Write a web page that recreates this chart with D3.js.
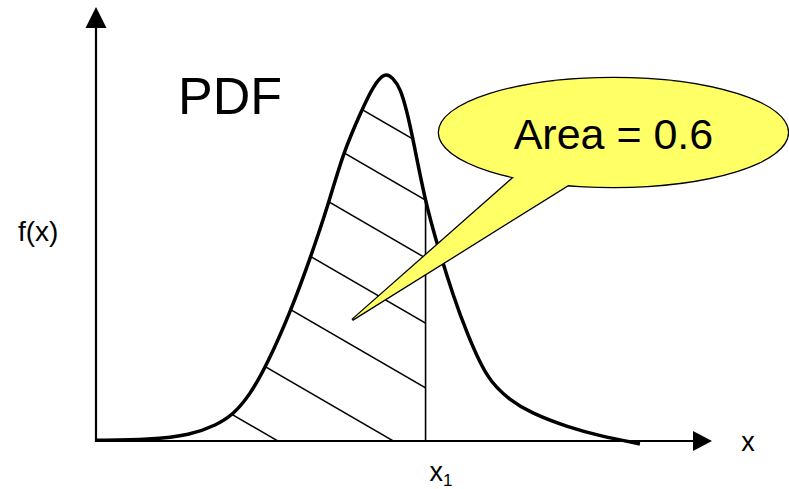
<!DOCTYPE html>
<html>
<head>
<meta charset="utf-8">
<script src="https://cdn.jsdelivr.net/npm/d3@7"></script>
<style>
  html, body { margin: 0; padding: 0; background: #fff; }
  svg { display: block; }
  text { font-family: "Liberation Sans", Arial, sans-serif; fill: #000; }
</style>
</head>
<body>
<svg id="chart" width="789" height="489"></svg>
<script>
// Density curve, sampled along x (arbitrary units)
const curveX = [0.00, 0.88, 1.53, 1.96, 2.22, 2.50, 2.78, 3.17, 3.49, 3.77, 4.01, 4.32, 4.50, 4.69,
                4.82, 4.94, 5.05, 5.15, 5.34, 5.54, 5.80, 6.02, 6.35, 6.72, 7.05, 7.69, 8.18, 8.83];
const curveF = [0.002, 0.004, 0.016, 0.044, 0.071, 0.126, 0.210, 0.358, 0.505, 0.645, 0.787, 0.906, 0.970, 1.008,
                0.992, 0.964, 0.899, 0.822, 0.658, 0.536, 0.396, 0.295, 0.167, 0.112, 0.077, 0.036, 0.014, -0.008];

// Cut-off point and the probability it encloses
const x1Value = 5.35;
const areaValue = 0.6;

// Axis extents
const xAxisMax = 10;
const fAxisMax = 1.186;

// Hatch lines, given by the density level where each one meets x = x1
const hatchLevels = [0.805, 0.658, 0.500, 0.322, 0.145, -0.051, -0.234];

// Callout (data coordinates): balloon centre and pointer tip
const calloutCenter = [8.40, 0.843];
const calloutTip = [4.16, 0.331];

const svg = d3.select("#chart");

const x = d3.scaleLinear().domain([0, xAxisMax]).range([96, 712]);
const y = d3.scaleLinear().domain([0, 1]).range([441, 75]);

const pts = curveX.map((v, i) => [v, curveF[i]]);
const curveType = d3.curveBasis;

const defs = svg.append("defs");

// Region under the curve
const areaGen = d3.area()
  .x(d => x(d[0]))
  .y0(y(0))
  .y1(d => y(d[1]))
  .curve(curveType);

defs.append("clipPath").attr("id", "under-curve")
  .append("path").attr("d", areaGen(pts));

defs.append("clipPath").attr("id", "left-of-x1")
  .append("rect")
  .attr("x", 0).attr("y", 0)
  .attr("width", x(x1Value)).attr("height", y(0));

// Hatching left of x1
const hatchSlope = 0.58;
const hatchOuter = svg.append("g").attr("clip-path", "url(#left-of-x1)");
const hatchInner = hatchOuter.append("g").attr("clip-path", "url(#under-curve)");
hatchInner.selectAll("line.hatch")
  .data(hatchLevels)
  .join("line")
  .attr("class", "hatch")
  .attr("x1", x(x1Value) + 40)
  .attr("y1", d => y(d) + hatchSlope * 40)
  .attr("x2", x(0))
  .attr("y2", d => y(d) - hatchSlope * (x(x1Value) - x(0)))
  .attr("stroke", "#000")
  .attr("stroke-width", 1.5);

// Vertical line at x1, up to the curve
svg.append("g").attr("clip-path", "url(#under-curve)")
  .append("line")
  .attr("x1", x(x1Value)).attr("x2", x(x1Value))
  .attr("y1", y(0)).attr("y2", y(1.2))
  .attr("stroke", "#000")
  .attr("stroke-width", 1.6);

// Axes with arrow heads
const axisColor = "#000";
svg.append("line")
  .attr("x1", x(0)).attr("y1", y(0))
  .attr("x2", x(xAxisMax) - 10).attr("y2", y(0))
  .attr("stroke", axisColor).attr("stroke-width", 2.2);
svg.append("line")
  .attr("x1", x(0)).attr("y1", y(0) + 1.1)
  .attr("x2", x(0)).attr("y2", y(fAxisMax) + 10)
  .attr("stroke", axisColor).attr("stroke-width", 2.2);

const xTip = [x(xAxisMax), y(0)];
svg.append("path")
  .attr("d", `M${xTip[0]},${xTip[1]} L${xTip[0] - 19},${xTip[1] - 10} L${xTip[0] - 19},${xTip[1] + 10} Z`)
  .attr("fill", axisColor);
const yTip = [x(0), y(fAxisMax)];
svg.append("path")
  .attr("d", `M${yTip[0]},${yTip[1]} L${yTip[0] - 10.5},${yTip[1] + 21} L${yTip[0] + 10.5},${yTip[1] + 21} Z`)
  .attr("fill", axisColor);

// Density curve
const lineGen = d3.line()
  .x(d => x(d[0]))
  .y(d => y(d[1]))
  .curve(curveType);

svg.append("path")
  .attr("d", lineGen(pts))
  .attr("fill", "none")
  .attr("stroke", "#000")
  .attr("stroke-width", 3.5)
  .attr("stroke-linejoin", "round");

// Labels
svg.append("text")
  .attr("x", 178).attr("y", 114)
  .attr("font-size", 52)
  .text("PDF");

svg.append("text")
  .attr("x", 18).attr("y", 241)
  .attr("font-size", 28)
  .text("f(x)");

svg.append("text")
  .attr("x", 748).attr("y", 451)
  .attr("text-anchor", "middle")
  .attr("font-size", 27)
  .text("x");

const x1Label = svg.append("text")
  .attr("x", x(x1Value) + 4).attr("y", 481)
  .attr("font-size", 27);
x1Label.append("tspan").text("x");
x1Label.append("tspan").attr("font-size", 17).attr("dy", 5).text("1");

// Callout balloon with pointer
const cx = x(calloutCenter[0]), cy = y(calloutCenter[1]);
const rx = 174.5, ry = 54.5;
const tip = [x(calloutTip[0]), y(calloutTip[1])];
const baseA = [cx - 94, cy + 40];
const baseB = [cx - 38, cy + 48];
const pointerPath = `M${baseA[0]},${baseA[1]} L${tip[0]},${tip[1]} L${baseB[0]},${baseB[1]} Z`;

const balloon = svg.append("g");
const fillColor = "#ffff66";
// outline layer
balloon.append("ellipse")
  .attr("cx", cx).attr("cy", cy).attr("rx", rx).attr("ry", ry)
  .attr("fill", fillColor).attr("stroke", "#000").attr("stroke-width", 2.6);
balloon.append("path")
  .attr("d", pointerPath)
  .attr("fill", fillColor).attr("stroke", "#000").attr("stroke-width", 2.6)
  .attr("stroke-linejoin", "miter");
// fill layer, hides the inner half of the outlines
balloon.append("ellipse")
  .attr("cx", cx).attr("cy", cy).attr("rx", rx).attr("ry", ry)
  .attr("fill", fillColor);
balloon.append("path")
  .attr("d", pointerPath)
  .attr("fill", fillColor);

balloon.append("text")
  .attr("x", cx).attr("y", 149)
  .attr("text-anchor", "middle")
  .attr("font-size", 43)
  .text(`Area = ${areaValue}`);
</script>
</body>
</html>
